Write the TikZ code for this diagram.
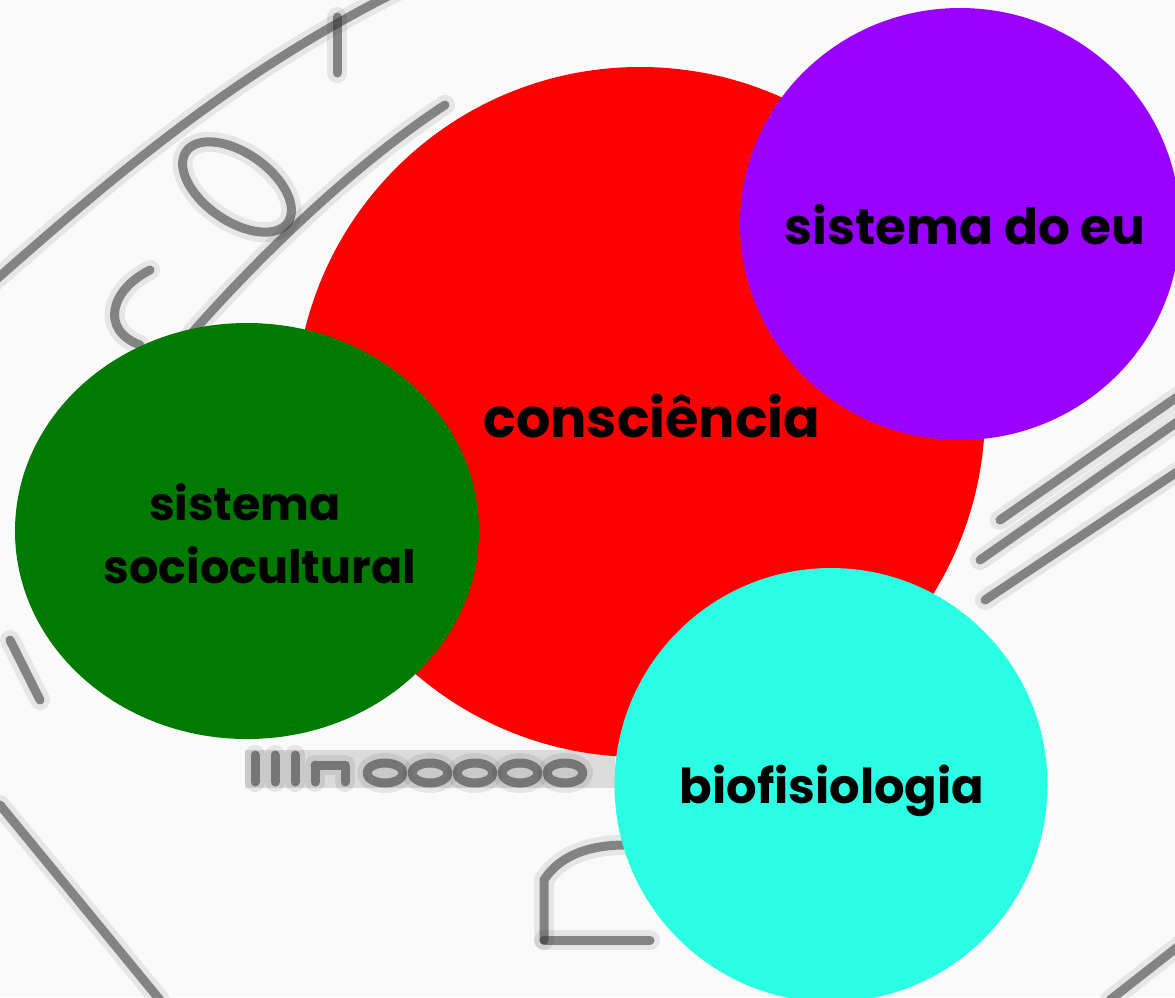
\documentclass[tikz,border=0pt]{standalone}
\usepackage{fontspec}
\setmainfont{Poppins}
\usetikzlibrary{shapes.geometric}
\definecolor{bgpaper}{HTML}{FAFAFA}
\definecolor{cred}{HTML}{FF0000}
\definecolor{cpurple}{HTML}{9900FF}
\definecolor{cgreen}{HTML}{007A00}
\definecolor{ccyan}{HTML}{2BFFE3}
\tikzset{
  blob/.style={ellipse, inner sep=0pt, draw=none},
  lbl/.style={anchor=base, text=black, font=\fontsize{46}{50}\selectfont\bfseries, inner sep=0pt},
  stampsoft/.style={draw=black, line width=20pt, opacity=0.08, line cap=round, line join=round},
  stamphard/.style={draw=black!80, line width=9pt, opacity=0.55, line cap=round, line join=round},
}
\newcommand{\stampline}[1]{\draw[stampsoft] #1; \draw[stamphard] #1;}
\begin{document}
\begin{tikzpicture}[x=1pt,y=-1pt]
\fill[bgpaper] (0,0) rectangle (1175,997);
\useasboundingbox (0,0) rectangle (1175,997);
% blurred stamp in the background
\stampline{(-10,285) .. controls (120,170) and (240,70) .. (400,-10)}
\stampline{(337,17) -- (337,73)}
\stampline{(80,480) .. controls (140,380) and (300,200) .. (445,105)}
\stampline{(237,187) ellipse [x radius=62, y radius=34, rotate=-35]}
\stampline{(150,270) .. controls (110,290) and (100,330) .. (140,345)}
\stampline{(0,805) -- (160,1000)}
\stampline{(544,940) -- (544,880) .. controls (560,855) and (590,845) .. (625,845)}
\stampline{(544,940) -- (650,940)}
\fill[black, opacity=0.12] (245,750) rectangle (615,788);
\stampline{(255,755) -- (255,782)}
\stampline{(275,755) -- (275,782)}
\stampline{(295,755) -- (295,782)}
\stampline{(315,765) -- (315,782) (315,765) -- (345,765) -- (345,782)}
\stampline{(385,773) ellipse [x radius=18, y radius=10]}
\stampline{(430,773) ellipse [x radius=18, y radius=10]}
\stampline{(475,773) ellipse [x radius=18, y radius=10]}
\stampline{(520,773) ellipse [x radius=18, y radius=10]}
\stampline{(565,773) ellipse [x radius=18, y radius=10]}
\stampline{(985,600) -- (1180,470)}
\stampline{(980,560) -- (1180,420)}
\stampline{(1000,520) -- (1180,395)}
\stampline{(1110,1000) -- (1180,945)}
\stampline{(10,640) -- (40,700)}
% circles
\node[blob, fill=cred, minimum width=690pt, minimum height=690pt] (cons) at (640,412) {};
\node[blob, fill=cpurple, minimum width=440pt, minimum height=432pt] (eu) at (960,224) {};
\node[blob, fill=cgreen, minimum width=464pt, minimum height=416pt] (socio) at (247,531) {};
\node[blob, fill=ccyan, minimum width=433pt, minimum height=434pt] (bio) at (831,785) {};
% labels
\node[lbl, font=\fontsize{54}{58}\selectfont\bfseries] (tcons) at (652,437) {consciência};
\node[lbl, font=\fontsize{50}{54}\selectfont\bfseries] (teu) at (965,244) {sistema do eu};
\node[lbl] (tsoc1) at (245,520) {sistema};
\node[lbl] (tsoc2) at (260,583) {sociocultural};
\node[lbl, font=\fontsize{48}{52}\selectfont\bfseries] (tbio) at (832,803) {biofisiologia};
\end{tikzpicture}
\end{document}
